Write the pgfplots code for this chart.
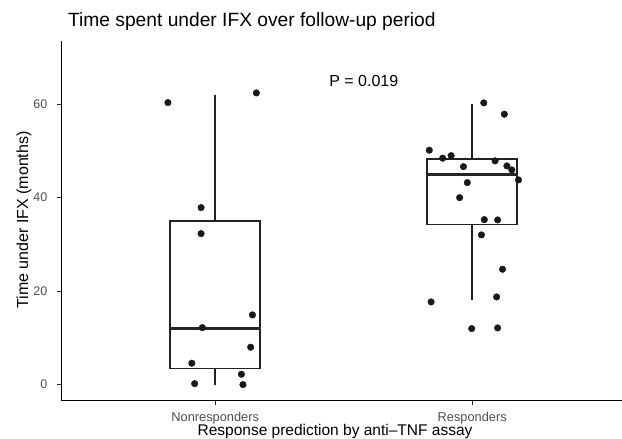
\documentclass[border=0pt]{standalone}
\usepackage{fontspec}
\setmainfont{Liberation Sans}
\usepackage{pgfplots}
\pgfplotsset{compat=1.18}
\usepgfplotslibrary{statistics}
\definecolor{tickgray}{HTML}{4D4D4D}
\definecolor{boxgray}{HTML}{222222}
\begin{document}
\begin{tikzpicture}[x=1bp,y=1bp]
\path[use as bounding box] (0,0) rectangle (622,439);
\begin{axis}[
  at={(61bp,38bp)}, anchor=south west,
  scale only axis, width=565.4bp, height=360bp,
  xmin=0.4, xmax=2.6, ymin=-3.5, ymax=73.5,
  axis x line*=bottom, axis y line*=left,
  axis line style={line width=1bp, black, -},
  xtick={1,2}, xticklabels={Nonresponders,Responders},
  ytick={0,20,40,60},
  tick align=outside, major tick length=4.5bp,
  tick style={line width=1bp, boxgray},
  /pgf/number format/assume math mode=true,
  xticklabel style={font=\fontsize{12.8bp}{14bp}\selectfont, text=tickgray, anchor=base, inner sep=0pt, yshift=-16.3bp},
  xticklabel shift=0pt,
  yticklabel style={font=\fontsize{12.5bp}{14bp}\selectfont, text=tickgray, anchor=east, inner sep=0pt, xshift=-9bp},
  yticklabel shift=0pt,
  boxplot/draw direction=y,
  every boxplot/.style={line width=1.5bp},
  clip=false,
]
\addplot+[draw=boxgray, line width=1.5bp, fill=white, mark=none,
  boxplot prepared={median=12.06, upper quartile=35.0, lower quartile=3.5,
    upper whisker=62.0, lower whisker=0.0, draw position=1, box extend=0.35, whisker extend=0},
  boxplot/every median/.style={draw=black!85, line width=2.6bp},
  boxplot/every box/.style={draw=boxgray, line width=1.5bp},
  boxplot/every whisker/.style={draw=boxgray, line width=1.5bp}]
  coordinates {};
\addplot+[draw=boxgray, line width=1.5bp, fill=white, mark=none,
  boxplot prepared={median=45.0, upper quartile=48.3, lower quartile=34.3,
    upper whisker=60.0, lower whisker=18.05, draw position=2, box extend=0.35, whisker extend=0},
  boxplot/every median/.style={draw=black!85, line width=2.6bp},
  boxplot/every box/.style={draw=boxgray, line width=1.5bp},
  boxplot/every whisker/.style={draw=boxgray, line width=1.5bp}]
  coordinates {};
\addplot[only marks, mark=*, mark size=3.3bp, color=black!90] coordinates {
  (0.816,60.32) (1.160,62.39) (0.945,37.86) (0.945,32.30) (1.145,14.91)
  (0.950,12.19) (1.138,8.00) (0.909,4.58) (1.102,2.22) (0.920,0.21) (1.108,0.0)
};
\addplot[only marks, mark=*, mark size=3.3bp, color=black!90] coordinates {
  (2.045,60.26) (2.125,57.84) (1.833,50.14) (1.885,48.43) (1.918,48.98)
  (2.089,47.85) (1.966,46.63) (2.135,46.78) (2.154,45.93) (2.180,43.79)
  (1.981,43.21) (1.951,40.00) (2.047,35.29) (2.099,35.23) (2.036,32.02)
  (2.118,24.68) (1.840,17.69) (2.095,18.76) (1.998,11.98) (2.099,12.13)
};
\node[anchor=base, inner sep=0pt, font=\fontsize{16bp}{18bp}\selectfont] at (axis cs:1.578,63.7) {P = 0.019};
\end{axis}
\node[anchor=base west, inner sep=0pt, font=\fontsize{19.2bp}{22bp}\selectfont] at (68,412) {Time spent under IFX over follow-up period};
\node[rotate=90, anchor=base, inner sep=0pt, font=\fontsize{16bp}{18bp}\selectfont] at (28,219) {Time under IFX (months)};
\node[anchor=base, inner sep=0pt, font=\fontsize{15.5bp}{18bp}\selectfont] at (335,3.8) {Response prediction by anti–TNF assay};
\end{tikzpicture}
\end{document}
